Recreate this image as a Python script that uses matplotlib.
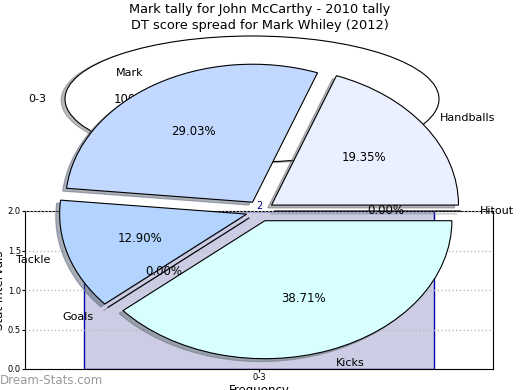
import matplotlib
matplotlib.use("Agg")
import matplotlib.pyplot as plt

# histogram data
hist_bins = ["0-3"]
hist_counts = [2]
y_ticks = [0.0, 0.5, 1.0, 1.5, 2.0]

# first pie: Mark tally for John McCarthy
pie1_labels = ["0-3"]
pie1_values = [1]

# second pie: DT score spread for Mark Whiley
pie2_labels = ["Hitout", "Handballs", "Mark", "Tackle", "Goals", "Kicks"]
pie2_values = [0, 6, 9, 4, 0, 12]
pie2_colors = ["#d8ffff", "#eaf0ff", "#c3d8ff", "#b2d4ff", "#b2d4ff", "#d8ffff"]

title1 = "Mark tally for John McCarthy - 2010 tally"
title2 = "DT score spread for Mark Whiley (2012)"

W, H = 520, 390
fig = plt.figure(figsize=(W / 100, H / 100), dpi=100)
shadow = {"ox": -0.015, "oy": -0.015, "shade": 0.55}

# histogram underneath
ax = fig.add_axes([25 / W, (H - 369) / H, 468 / W, 158 / H])
bars = ax.bar(0, hist_counts[0], width=0.8, color="#cccce4", edgecolor="#0000aa", linewidth=1)
ax.bar_label(bars, padding=0, fontsize=7, color="#000080")
ax.set_xlim(-0.535, 0.535)
ax.set_ylim(0, 2)
ax.set_xticks([0], hist_bins)
ax.set_yticks(y_ticks, [f"{t:.1f}" for t in y_ticks])
ax.tick_params(labelsize=6, length=2, pad=1)
ax.grid(axis="y", linestyle=":", color="#bbbbbb", linewidth=1)
ax.set_axisbelow(False)
ax.set_xlabel("Frequency", fontsize=8.5, labelpad=1)
ax.set_ylabel("Stat Intervals", fontsize=8.5, labelpad=1)

# first pie (single wedge, squashed)
ax1 = fig.add_axes([(252 - 233.75) / W, (H - 177.75) / H, 467.5 / W, 157.5 / H])
_, t1, p1 = ax1.pie(pie1_values, labels=pie1_labels, colors=["white"], autopct="%1.2f%%", shadow=shadow,
                    wedgeprops={"linewidth": 0.8, "edgecolor": "black"})
ax1.set_aspect("auto")
ax1.set_xlim(-1.25, 1.25)
ax1.set_ylim(-1.25, 1.25)

# second pie on top
ax2 = fig.add_axes([(260 - 233.75) / W, (H - 383.5) / H, 467.5 / W, 345 / H])
_, t2, p2 = ax2.pie(pie2_values, labels=pie2_labels, colors=pie2_colors, autopct="%1.2f%%", shadow=shadow,
                    explode=[0.075] * len(pie2_values), startangle=0,
                    wedgeprops={"linewidth": 0.8, "edgecolor": "black"})
ax2.set_aspect("auto")
ax2.set_xlim(-1.25, 1.25)
ax2.set_ylim(-1.25, 1.25)

for t in t1 + t2:
    t.set_fontsize(8)
for t in p1 + p2:
    t.set_fontsize(8.5)

fig.text(0.5, 1 - 10 / H, title1, ha="center", va="center", fontsize=9.3)
fig.text(0.5, 1 - 25 / H, title2, ha="center", va="center", fontsize=9.3)
fig.text(0, 10 / H, "Dream-Stats.com", color="#999999", fontsize=8.5, va="center")

fig.savefig("out.png", dpi=100)
